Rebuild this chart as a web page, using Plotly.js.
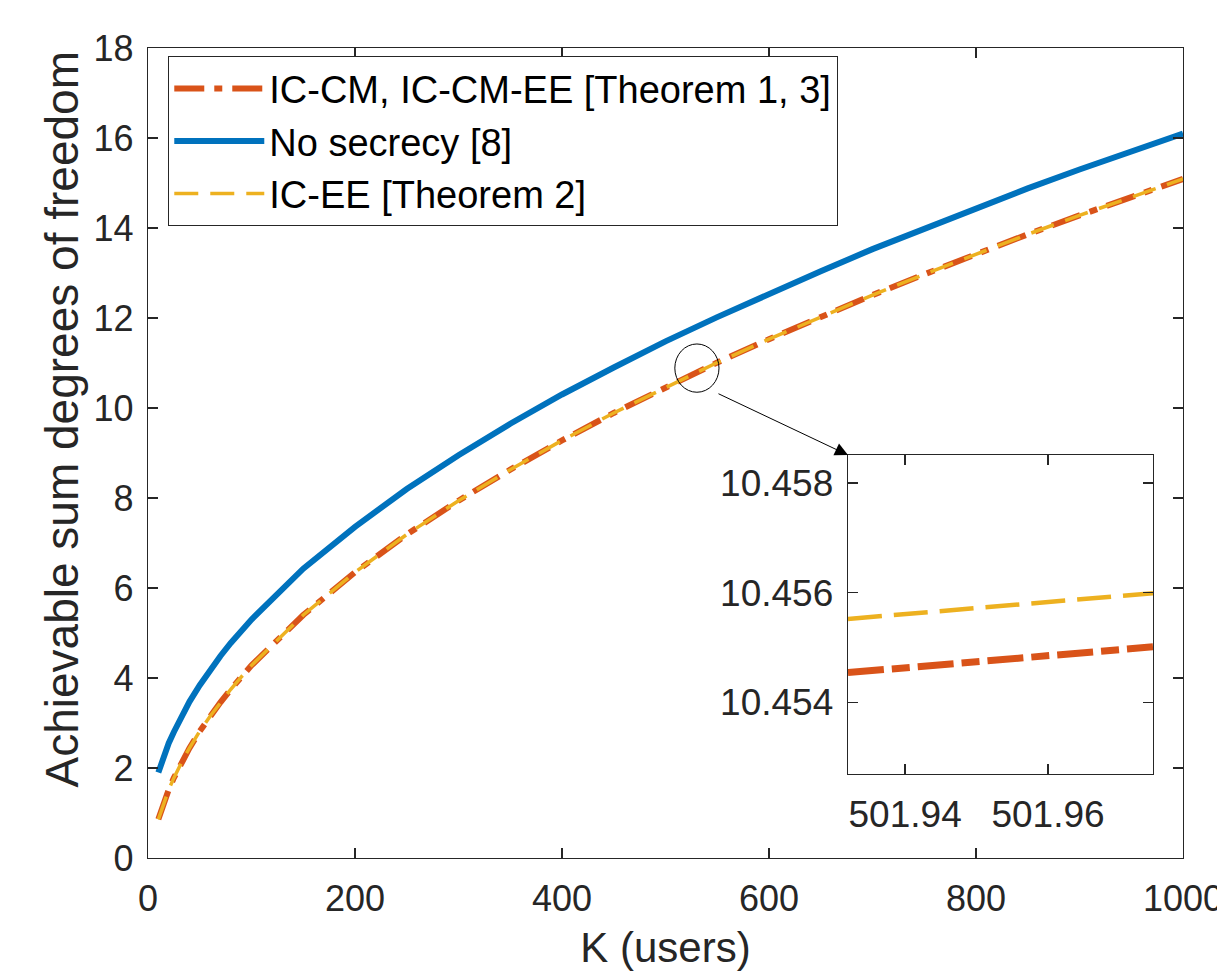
<!DOCTYPE html>
<html>
<head>
<meta charset="utf-8">
<script src="https://cdn.plot.ly/plotly-3.0.1.min.js"></script>
<style>html,body{margin:0;padding:0;background:#fff;}#chart{width:1217px;height:971px;}</style>
</head>
<body>
<div id="chart"></div>
<script>
// ---- data ----
const K = [10, 15, 20, 25, 30, 35, 40, 50, 60, 70, 80, 90, 100, 150, 200, 250, 300, 350, 400, 450, 500,
           550, 600, 650, 700, 750, 800, 850, 900, 950, 1000];
const icCm = [0.86, 1.22, 1.52, 1.78, 2.02, 2.24, 2.44, 2.82, 3.15, 3.46, 3.75, 4.02, 4.28, 5.40, 6.35, 7.19, 7.94,
              8.63, 9.28, 9.89, 10.46, 11.01, 11.53, 12.03, 12.51, 12.97, 13.42, 13.86, 14.28, 14.69, 15.09];
const noSecrecy = [1.90, 2.24, 2.55, 2.80, 3.05, 3.26, 3.47, 3.84, 4.18, 4.49, 4.78, 5.05, 5.30, 6.43, 7.36, 8.20, 8.95,
                   9.65, 10.30, 10.90, 11.48, 12.02, 12.54, 13.04, 13.53, 13.99, 14.44, 14.88, 15.30, 15.71, 16.10];
const icEe = [0.86, 1.22, 1.52, 1.78, 2.02, 2.24, 2.44, 2.82, 3.15, 3.46, 3.75, 4.02, 4.28, 5.40, 6.35, 7.19, 7.94,
              8.63, 9.28, 9.89, 10.46, 11.01, 11.53, 12.03, 12.51, 12.97, 13.42, 13.86, 14.28, 14.69, 15.09];
// inset (zoom) data
const Kzoom = [501.932, 501.9747];
const icCmZoom = [10.45454, 10.45501];
const icEeZoom = [10.45552, 10.45599];
const names = ['IC-CM, IC-CM-EE [Theorem 1, 3]', 'No secrecy [8]', 'IC-EE [Theorem 2]'];
const xTicks = [0, 200, 400, 600, 800, 1000];
const yTicks = [0, 2, 4, 6, 8, 10, 12, 14, 16, 18];
const xTicksZoom = [501.94, 501.96];
const yTicksZoom = [10.454, 10.456, 10.458];
const xTitle = 'K (users)';
const yTitle = 'Achievable sum degrees of freedom';

const RED = '#D95319', BLUE = '#0072BD', YEL = '#EDB120', AX = '#262626';
const FONT = 'Liberation Sans, Arial, Helvetica, sans-serif';

const traces = [
  {x: K, y: icCm, name: names[0], mode: 'lines', legendrank: 1,
   line: {color: RED, width: 6, dash: '30px,10px,8px,10px'}},
  {x: K, y: noSecrecy, name: names[1], mode: 'lines', legendrank: 2,
   line: {color: BLUE, width: 6}},
  {x: K, y: icEe, name: names[2], mode: 'lines', legendrank: 3,
   line: {color: YEL, width: 3.5, dash: '24px,12px'}},
  {x: Kzoom, y: icCmZoom, xaxis: 'x2', yaxis: 'y2', mode: 'lines', showlegend: false,
   line: {color: RED, width: 7, dash: '36px,8px,18px,8px'}},
  {x: Kzoom, y: icEeZoom, xaxis: 'x2', yaxis: 'y2', mode: 'lines', showlegend: false,
   line: {color: YEL, width: 4.5, dash: '34px,12px'}}
];

const axBase = {showline: true, linecolor: AX, linewidth: 1.3, mirror: 'ticks', ticks: 'inside',
  ticklen: 10, tickwidth: 1.3, tickcolor: AX, showgrid: false, zeroline: false, automargin: false,
  ticklabeloverflow: 'allow', tickfont: {family: FONT, size: 36, color: AX}};

const layout = {
  width: 1217, height: 971,
  margin: {l: 148, r: 34, t: 48, b: 113},
  paper_bgcolor: '#fff', plot_bgcolor: 'rgba(0,0,0,0)',
  font: {family: FONT, color: AX},
  showlegend: true,
  xaxis: Object.assign({}, axBase, {range: [0, 1000.0001], tickmode: 'array', tickvals: xTicks,
    domain: [0, 1], ticklabelstandoff: 8,
    title: {text: xTitle, font: {family: FONT, size: 42, color: AX}, standoff: 20}}),
  yaxis: Object.assign({}, axBase, {range: [0, 18], tickmode: 'array', tickvals: yTicks,
    domain: [0, 1], ticklabelstandoff: 6}),
  xaxis2: Object.assign({}, axBase, {anchor: 'y2', domain: [0.6763, 0.971], range: [501.932, 501.9747],
    tickmode: 'array', tickvals: xTicksZoom, ticklabelstandoff: 7, tickfont: {family: FONT, size: 37, color: AX}}),
  yaxis2: Object.assign({}, axBase, {anchor: 'x2', domain: [0.1037, 0.4975], range: [10.45269, 10.45851],
    tickmode: 'array', tickvals: yTicksZoom, ticklabelstandoff: 6, tickfont: {family: FONT, size: 37, color: AX}}),
  legend: {x: 0.0193, y: 0.99, xanchor: 'left', yanchor: 'top', bgcolor: '#fff',
    bordercolor: AX, borderwidth: 1.3, font: {family: FONT, size: 38, color: '#000'},
    tracegroupgap: 0, itemwidth: 90},
  shapes: [
    {type: 'circle', xref: 'paper', yref: 'paper', x0: 0.509, x1: 0.5517, y0: 0.575, y1: 0.6346,
     line: {color: '#000', width: 1}}
  ],
  annotations: [
    {xref: 'paper', yref: 'paper', x: 0.6763, y: 0.4975, ax: -131, ay: -62, axref: 'pixel', ayref: 'pixel',
     showarrow: true, arrowhead: 2, arrowsize: 2.6, arrowwidth: 1, arrowcolor: '#000', text: ''},
    {xref: 'paper', yref: 'paper', x: -0.0831, y: 0.5414, textangle: -90, showarrow: false,
     xanchor: 'center', yanchor: 'middle', text: yTitle, font: {family: FONT, size: 46, color: AX}}
  ]
};

Plotly.newPlot('chart', traces, layout, {displayModeBar: false, staticPlot: true});
</script>
</body>
</html>
